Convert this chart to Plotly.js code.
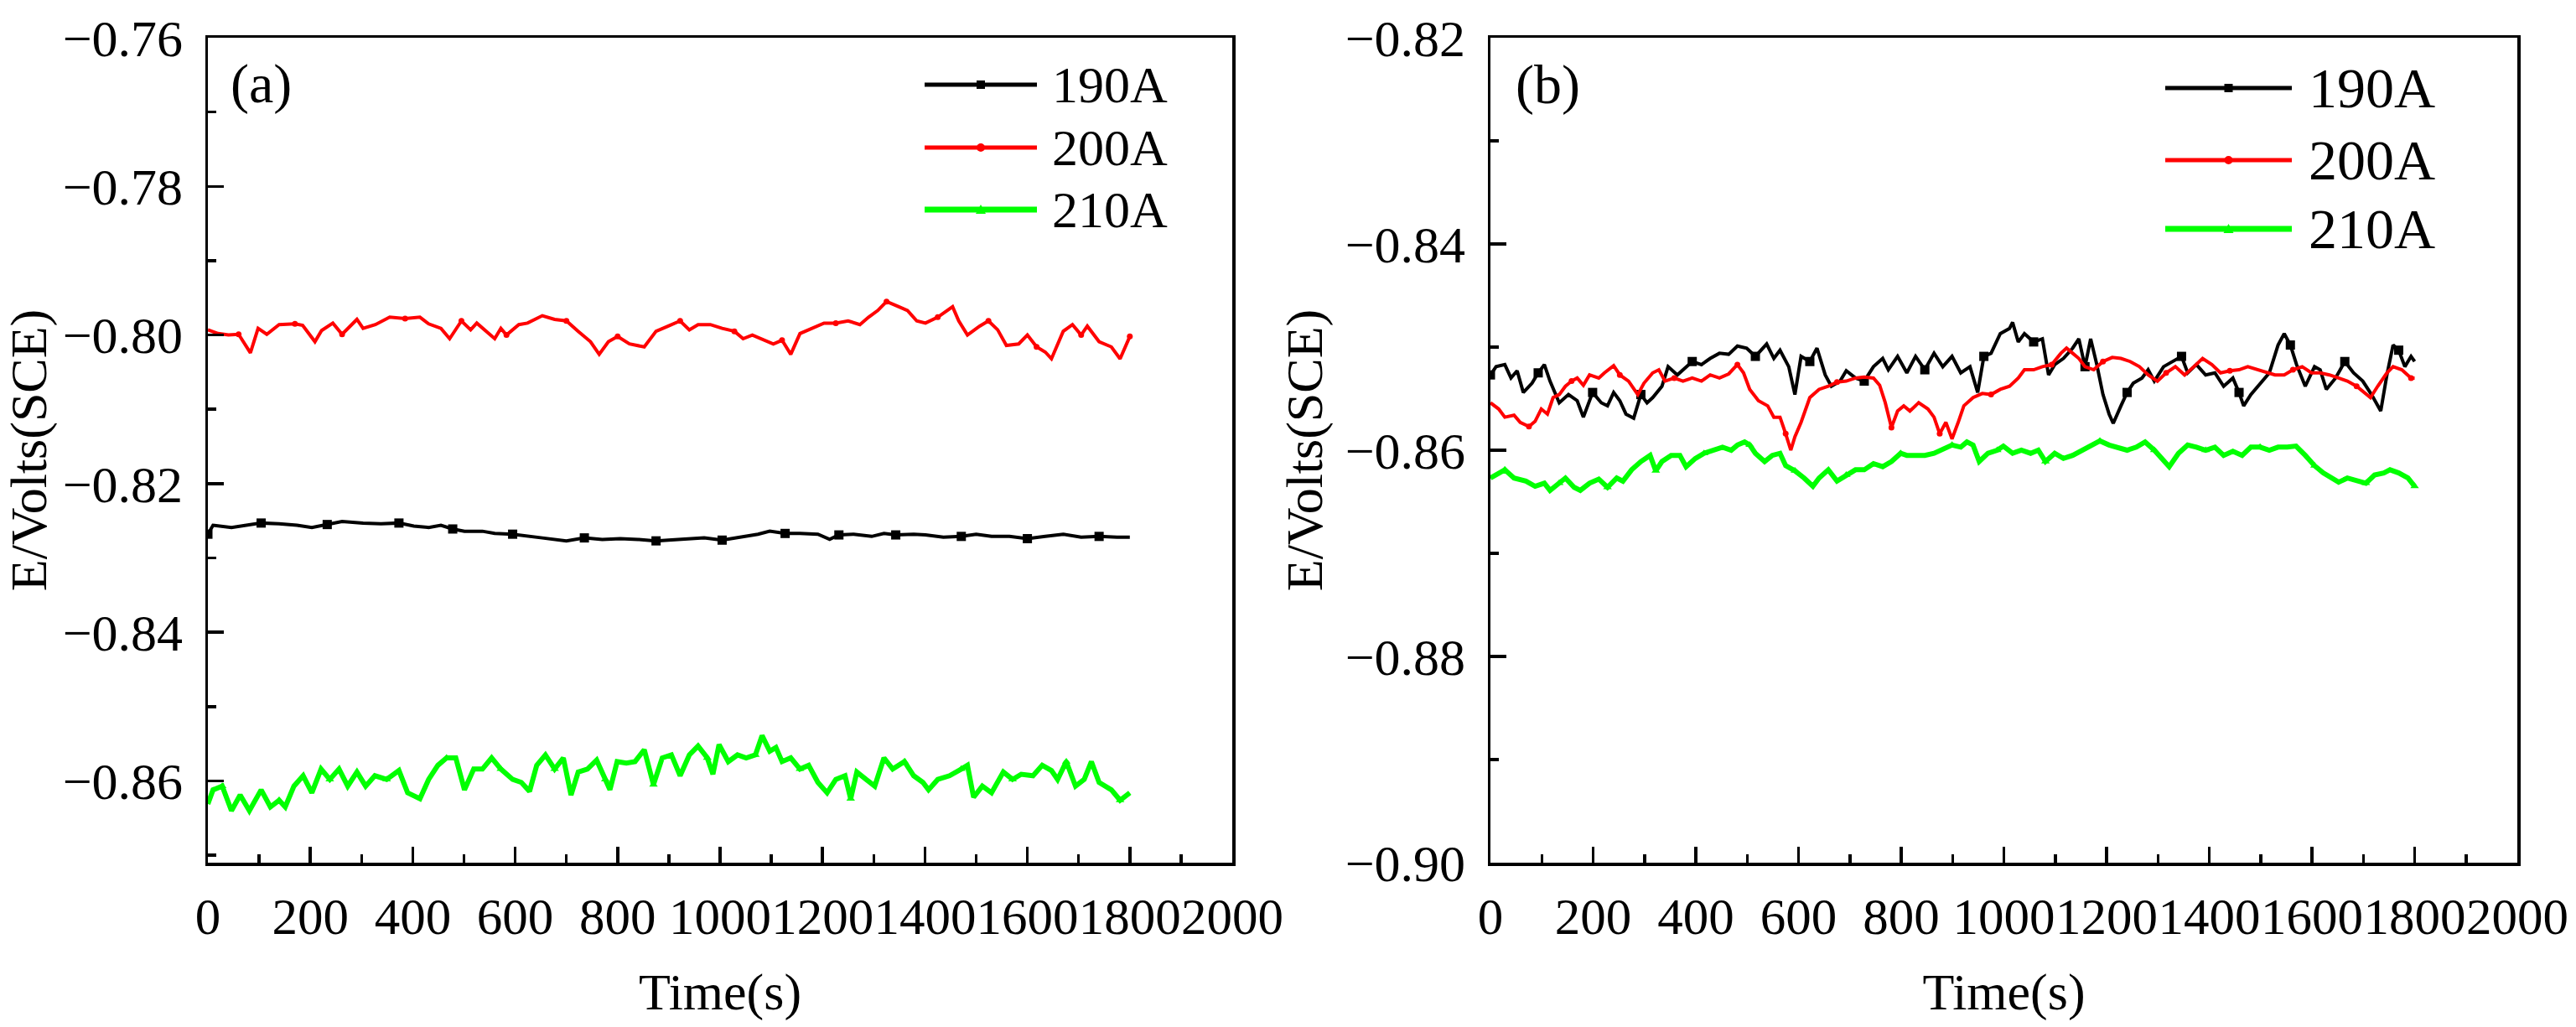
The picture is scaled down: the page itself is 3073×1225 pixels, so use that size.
<!DOCTYPE html>
<html>
<head>
<meta charset="utf-8">
<script src="https://cdn.plot.ly/plotly-3.0.1.min.js"></script>
<style>
  html, body { margin: 0; padding: 0; background: #fff; }
  #chart { width: 3073px; height: 1225px; }
</style>
</head>
<body>
<div id="chart"></div>
<script>
// ---- data ----
const seriesNames = ["190A", "200A", "210A"];
const seriesColors = ["#000000", "#ff0000", "#00ff00"];
const seriesSymbols = ["square", "circle", "triangle-up"];

// panel (a)
const tA190 = [0,10,46,81,104,139,174,203,233,262,303,338,373,402,431,455,478,501,536,560,
  595,624,653,700,735,770,805,840,875,899,934,969,1004,1039,1074,1097,1127,1156,1191,1214,
  1232,1261,1296,1320,1343,1378,1401,1436,1471,1500,1530,1565,1600,1635,1670,1705,1740,1775,1800];
const vA190 = [-0.8268,-0.8256,-0.8259,-0.8256,-0.8253,-0.8254,-0.8256,-0.8259,-0.8255,-0.8251,
  -0.8253,-0.8254,-0.8253,-0.8257,-0.8259,-0.8256,-0.8261,-0.8264,-0.8264,-0.8267,
  -0.8268,-0.8271,-0.8273,-0.8277,-0.8273,-0.8275,-0.8274,-0.8275,-0.8277,-0.8276,
  -0.8274,-0.8273,-0.8276,-0.8272,-0.8268,-0.8264,-0.8267,-0.8267,-0.8268,-0.8275,
  -0.8269,-0.8268,-0.8271,-0.8267,-0.8269,-0.8268,-0.8269,-0.8272,-0.8271,-0.8268,
  -0.8271,-0.8271,-0.8274,-0.8271,-0.8268,-0.8272,-0.8271,-0.8272,-0.8272];

const tA200 = [0,20,40,60,83,98,115,139,170,185,209,222,244,262,291,303,327,355,385,414,
  431,455,472,495,513,525,560,572,583,607,624,653,677,700,723,747,764,782,800,823,
  852,875,899,922,940,957,981,1004,1028,1045,1063,1086,1104,1121,1138,1156,1180,1203,1226,1250,
  1273,1290,1308,1325,1349,1366,1384,1401,1425,1454,1466,1483,1507,1524,1542,1559,1583,1600,1618,1635,
  1647,1670,1688,1705,1717,1740,1764,1781,1800];
const vA200 = [-0.7993,-0.7998,-0.8000,-0.7999,-0.8024,-0.7991,-0.7999,-0.7986,-0.7985,-0.7987,
  -0.8009,-0.7994,-0.7984,-0.7999,-0.7979,-0.7991,-0.7986,-0.7976,-0.7978,-0.7976,
  -0.7985,-0.7991,-0.8005,-0.7981,-0.7993,-0.7984,-0.8005,-0.7991,-0.8000,-0.7986,
  -0.7984,-0.7974,-0.7979,-0.7981,-0.7995,-0.8009,-0.8026,-0.8009,-0.8002,-0.8012,
  -0.8016,-0.7995,-0.7988,-0.7981,-0.7993,-0.7986,-0.7986,-0.7991,-0.7995,-0.8005,
  -0.8000,-0.8007,-0.8012,-0.8007,-0.8026,-0.7998,-0.7991,-0.7984,-0.7984,-0.7981,
  -0.7986,-0.7976,-0.7967,-0.7955,-0.7962,-0.7967,-0.7981,-0.7984,-0.7976,-0.7962,
  -0.7981,-0.8000,-0.7988,-0.7981,-0.7993,-0.8014,-0.8012,-0.8000,-0.8016,-0.8023,
  -0.8032,-0.7995,-0.7986,-0.8000,-0.7988,-0.8009,-0.8016,-0.8032,-0.8002];

const tA210 = [0,10,28,46,63,81,104,122,139,151,168,186,203,221,238,256,273,291,308,326,
  349,373,390,414,431,449,466,484,501,519,536,554,572,595,612,628,642,659,677,694,
  709,723,741,759,776,785,799,817,834,852,870,887,905,922,940,957,975,986,998,1016,
  1034,1051,1069,1082,1097,1109,1121,1138,1156,1173,1191,1209,1226,1244,1255,1267,1285,1302,1320,1337,
  1360,1378,1396,1407,1425,1448,1471,1483,1495,1512,1530,1553,1571,1588,1611,1629,1647,1659,1676,1694,
  1711,1725,1740,1764,1781,1800];
const vA210 = [-0.8631,-0.8612,-0.8607,-0.8640,-0.8619,-0.8640,-0.8612,-0.8635,-0.8626,-0.8635,
  -0.8607,-0.8593,-0.8616,-0.8584,-0.8598,-0.8584,-0.8607,-0.8588,-0.8607,-0.8593,
  -0.8598,-0.8586,-0.8616,-0.8624,-0.8598,-0.8579,-0.8569,-0.8569,-0.8612,-0.8584,
  -0.8584,-0.8569,-0.8584,-0.8598,-0.8602,-0.8614,-0.8579,-0.8565,-0.8584,-0.8569,
  -0.8619,-0.8588,-0.8584,-0.8572,-0.8598,-0.8612,-0.8574,-0.8576,-0.8574,-0.8558,
  -0.8605,-0.8569,-0.8565,-0.8593,-0.8565,-0.8553,-0.8569,-0.8591,-0.8551,-0.8574,
  -0.8565,-0.8569,-0.8565,-0.8539,-0.8560,-0.8555,-0.8574,-0.8569,-0.8584,-0.8579,
  -0.8602,-0.8616,-0.8598,-0.8593,-0.8624,-0.8588,-0.8598,-0.8607,-0.8569,-0.8584,
  -0.8574,-0.8593,-0.8602,-0.8612,-0.8598,-0.8593,-0.8584,-0.8579,-0.8622,-0.8607,
  -0.8616,-0.8588,-0.8598,-0.8591,-0.8593,-0.8579,-0.8586,-0.8598,-0.8574,-0.8607,
  -0.8598,-0.8574,-0.8602,-0.8612,-0.8626,-0.8616];

// panel (b)
const tB190 = [0,11,28,40,52,64,81,93,105,116,134,152,169,181,199,216,228,240,252,264,
  279,293,305,316,334,346,364,381,393,411,428,446,464,481,499,516,538,552,564,581,
  593,605,622,636,652,664,681,693,711,728,746,764,775,793,811,828,846,864,881,899,
  916,934,949,961,975,993,1011,1017,1028,1040,1058,1075,1087,1099,1116,1134,1146,1158,1169,1181,
  1193,1205,1213,1228,1240,1252,1269,1281,1293,1311,1328,1346,1358,1375,1393,1411,1428,1446,1458,1467,
  1481,1499,1517,1534,1546,1558,1570,1587,1605,1616,1628,1646,1664,1681,1699,1716,1734,1746,1758,1769,
  1781,1793,1800];
const vB190 = [-0.8527,-0.8519,-0.8517,-0.8530,-0.8523,-0.8544,-0.8535,-0.8525,-0.8517,-0.8533,
  -0.8554,-0.8546,-0.8552,-0.8568,-0.8544,-0.8554,-0.8557,-0.8544,-0.8552,-0.8565,
  -0.8569,-0.8546,-0.8554,-0.8549,-0.8538,-0.8519,-0.8527,-0.8519,-0.8514,-0.8517,
  -0.8511,-0.8506,-0.8507,-0.8499,-0.8501,-0.8509,-0.8497,-0.8511,-0.8503,-0.8519,
  -0.8546,-0.8509,-0.8514,-0.8501,-0.8527,-0.8538,-0.8533,-0.8523,-0.8530,-0.8533,
  -0.8519,-0.8511,-0.8522,-0.8509,-0.8525,-0.8509,-0.8522,-0.8506,-0.8519,-0.8509,
  -0.8525,-0.8519,-0.8544,-0.8509,-0.8506,-0.8487,-0.8482,-0.8476,-0.8495,-0.8487,
  -0.8495,-0.8492,-0.8527,-0.8517,-0.8511,-0.8501,-0.8492,-0.8519,-0.8492,-0.8517,
  -0.8546,-0.8565,-0.8574,-0.8557,-0.8544,-0.8535,-0.8530,-0.8522,-0.8533,-0.8519,
  -0.8514,-0.8509,-0.8525,-0.8517,-0.8527,-0.8525,-0.8538,-0.8530,-0.8544,-0.8557,
  -0.8546,-0.8535,-0.8525,-0.8498,-0.8487,-0.8498,-0.8517,-0.8538,-0.8519,-0.8522,
  -0.8541,-0.8530,-0.8514,-0.8525,-0.8533,-0.8546,-0.8562,-0.8527,-0.8498,-0.8503,
  -0.8519,-0.8509,-0.8514];

const tB200 = [0,16,28,46,58,75,87,99,111,122,134,146,158,169,181,193,211,222,240,252,
  269,287,299,316,328,340,358,375,393,411,428,446,464,481,493,505,522,540,552,564,
  575,585,593,605,622,640,658,675,693,711,728,746,758,769,781,793,805,817,834,852,
  864,875,887,899,911,922,940,958,975,993,1011,1028,1040,1058,1075,1093,1111,1122,1134,1146,
  1158,1175,1193,1211,1228,1246,1264,1281,1299,1316,1334,1352,1370,1387,1405,1422,1440,1458,1475,1493,
  1511,1528,1546,1563,1581,1599,1616,1634,1652,1669,1687,1705,1714,1728,1746,1758,1775,1793,1800];
const vB200 = [-0.8554,-0.8560,-0.8568,-0.8566,-0.8573,-0.8577,-0.8572,-0.8560,-0.8565,-0.8549,
  -0.8546,-0.8538,-0.8533,-0.8530,-0.8537,-0.8527,-0.8530,-0.8525,-0.8518,-0.8527,
  -0.8533,-0.8546,-0.8535,-0.8525,-0.8522,-0.8533,-0.8530,-0.8533,-0.8530,-0.8533,
  -0.8527,-0.8530,-0.8526,-0.8517,-0.8525,-0.8541,-0.8552,-0.8557,-0.8568,-0.8568,
  -0.8584,-0.8600,-0.8587,-0.8573,-0.8549,-0.8541,-0.8538,-0.8534,-0.8533,-0.8530,
  -0.8529,-0.8530,-0.8537,-0.8554,-0.8578,-0.8562,-0.8557,-0.8562,-0.8554,-0.8560,
  -0.8568,-0.8584,-0.8573,-0.8589,-0.8573,-0.8557,-0.8549,-0.8545,-0.8546,-0.8541,
  -0.8538,-0.8530,-0.8522,-0.8522,-0.8519,-0.8517,-0.8506,-0.8501,-0.8506,-0.8511,
  -0.8519,-0.8522,-0.8514,-0.8510,-0.8511,-0.8514,-0.8519,-0.8527,-0.8533,-0.8525,
  -0.8519,-0.8527,-0.8519,-0.8511,-0.8517,-0.8525,-0.8523,-0.8522,-0.8519,-0.8522,
  -0.8525,-0.8527,-0.8527,-0.8522,-0.8519,-0.8525,-0.8525,-0.8527,-0.8530,-0.8533,
  -0.8538,-0.8545,-0.8549,-0.8538,-0.8525,-0.8519,-0.8522,-0.8530,-0.8530];

const tB210 = [0,11,28,46,69,87,105,116,134,146,163,175,193,211,228,246,258,275,293,311,
  322,334,352,369,381,399,416,434,452,469,481,495,505,516,534,549,564,575,593,611,
  628,640,658,675,693,711,728,746,764,781,799,811,828,846,864,881,899,916,928,940,
  952,969,987,999,1017,1034,1052,1067,1081,1099,1116,1134,1152,1169,1187,1205,1222,1240,1258,1275,
  1293,1311,1322,1340,1358,1375,1393,1411,1428,1446,1464,1481,1499,1517,1534,1552,1569,1587,1605,1622,
  1640,1652,1669,1687,1705,1722,1740,1752,1769,1787,1800];
const vB210 = [-0.8627,-0.8624,-0.8619,-0.8627,-0.8630,-0.8635,-0.8632,-0.8639,-0.8632,-0.8627,
  -0.8636,-0.8639,-0.8632,-0.8628,-0.8636,-0.8627,-0.8630,-0.8619,-0.8611,-0.8605,
  -0.8620,-0.8611,-0.8605,-0.8605,-0.8616,-0.8608,-0.8603,-0.8600,-0.8597,-0.8600,
  -0.8595,-0.8592,-0.8595,-0.8603,-0.8611,-0.8605,-0.8603,-0.8615,-0.8620,-0.8627,
  -0.8635,-0.8627,-0.8619,-0.8630,-0.8624,-0.8619,-0.8619,-0.8613,-0.8616,-0.8611,
  -0.8603,-0.8605,-0.8605,-0.8605,-0.8603,-0.8599,-0.8595,-0.8597,-0.8592,-0.8595,
  -0.8611,-0.8603,-0.8600,-0.8596,-0.8603,-0.8600,-0.8603,-0.8600,-0.8611,-0.8603,
  -0.8608,-0.8605,-0.8600,-0.8595,-0.8591,-0.8595,-0.8597,-0.8600,-0.8597,-0.8592,
  -0.8600,-0.8611,-0.8616,-0.8603,-0.8595,-0.8597,-0.8600,-0.8597,-0.8605,-0.8601,
  -0.8605,-0.8597,-0.8597,-0.8600,-0.8597,-0.8597,-0.8596,-0.8605,-0.8615,-0.8622,
  -0.8627,-0.8631,-0.8627,-0.8630,-0.8632,-0.8624,-0.8622,-0.8619,-0.8622,-0.8627,
  -0.8635];

const panelLabels = ["(a)", "(b)"];
const xTitle = "Time(s)";
const yTitle = "E/Volts(SCE)";

// ---- layout helpers (pixel -> paper) ----
const W = 3073, H = 1225;
const px = (x) => x / W;
const py = (y) => 1 - y / H;
const FONT = "Liberation Serif, Times New Roman, serif";
const lineWidths = [4, 4, 6];
const markerSizes = [11, 7, 9];

function makeTrace(i, t, v, xa, ya) {
  return {
    x: t,
    y: v,
    xaxis: xa,
    yaxis: ya,
    name: seriesNames[i],
    type: "scatter",
    mode: "lines+markers",
    showlegend: false,
    line: { color: seriesColors[i], width: lineWidths[i] },
    marker: {
      color: seriesColors[i],
      symbol: seriesSymbols[i],
      size: markerSizes[i],
      maxdisplayed: 19,
    },
  };
}

const data = [
  makeTrace(0, tA190, vA190, "x", "y"),
  makeTrace(1, tA200, vA200, "x", "y"),
  makeTrace(2, tA210, vA210, "x", "y"),
  makeTrace(0, tB190, vB190, "x2", "y2"),
  makeTrace(1, tB200, vB200, "x2", "y2"),
  makeTrace(2, tB210, vB210, "x2", "y2"),
];

function xAxis(domain, anchor) {
  return {
    domain: domain,
    anchor: anchor,
    range: [0, 2000],
    tick0: 0,
    dtick: 200,
    tickangle: 0,
    ticks: "inside",
    ticklen: 19,
    tickwidth: 3.5,
    tickcolor: "#000",
    minor: { ticks: "inside", ticklen: 10, tickwidth: 3.5, dtick: 100, showgrid: false },
    showline: true,
    linewidth: 3.5,
    linecolor: "#000",
    mirror: true,
    showgrid: false,
    zeroline: false,
    ticklabelstandoff: 8,
    tickfont: { family: FONT, size: 61, color: "#000" },
    title: { text: xTitle, font: { family: FONT, size: 62, color: "#000" }, standoff: 36 },
  };
}

function yAxis(domain, anchor, range) {
  return {
    domain: domain,
    anchor: anchor,
    range: range,
    tick0: 0,
    dtick: 0.02,
    tickformat: ".2f",
    tickangle: 0,
    ticks: "inside",
    ticklen: 19,
    tickwidth: 3.5,
    tickcolor: "#000",
    minor: { ticks: "inside", ticklen: 10, tickwidth: 3.5, dtick: 0.01, showgrid: false },
    showline: true,
    linewidth: 3.5,
    linecolor: "#000",
    mirror: true,
    showgrid: false,
    zeroline: false,
    ticklabelstandoff: 14,
    tickfont: { family: FONT, size: 62, color: "#000" },
    title: { text: yTitle, font: { family: FONT, size: 62, color: "#000" }, standoff: 8 },
  };
}

const yDom = [py(1029), py(45)];

// hand drawn legends, one per panel
const legends = [
  { x0: 1103, x1: 1237, tx: 1253, rows: [101, 176, 250], size: 62 },
  { x0: 2583, x1: 2734, tx: 2752, rows: [105, 191, 273], size: 68 },
];
const legendWidths = [5, 5, 7];
const shapes = [];
const annotations = [];
legends.forEach((lg) => {
  lg.rows.forEach((ry, i) => {
    shapes.push({
      type: "line", xref: "paper", yref: "paper",
      x0: px(lg.x0), x1: px(lg.x1), y0: py(ry), y1: py(ry),
      line: { color: seriesColors[i], width: legendWidths[i] },
    });
    const cx = (lg.x0 + lg.x1) / 2;
    const r = 5;
    if (i === 0) {
      shapes.push({
        type: "rect", xref: "paper", yref: "paper",
        x0: px(cx - r), x1: px(cx + r), y0: py(ry + r), y1: py(ry - r),
        fillcolor: seriesColors[i], line: { width: 0 },
      });
    } else if (i === 1) {
      shapes.push({
        type: "circle", xref: "paper", yref: "paper",
        x0: px(cx - r), x1: px(cx + r), y0: py(ry + r), y1: py(ry - r),
        fillcolor: seriesColors[i], line: { width: 0 },
      });
    } else {
      shapes.push({
        type: "path", xref: "paper", yref: "paper",
        path: `M ${px(cx - 6)} ${py(ry + 5)} L ${px(cx + 6)} ${py(ry + 5)} L ${px(cx)} ${py(ry - 6)} Z`,
        fillcolor: seriesColors[i], line: { width: 0 },
      });
    }
    annotations.push({
      xref: "paper", yref: "paper",
      x: px(lg.tx), y: py(ry),
      xanchor: "left", yanchor: "middle",
      text: seriesNames[i], showarrow: false,
      font: { family: FONT, size: lg.size, color: "#000" },
    });
  });
});

[[273, 100], [1806, 101]].forEach((p, i) => {
  annotations.push({
    xref: "paper", yref: "paper",
    x: px(p[0]), y: py(p[1]),
    xanchor: "left", yanchor: "middle",
    text: panelLabels[i], showarrow: false,
    font: { family: FONT, size: 66, color: "#000" },
  });
});

const layout = {
  width: W,
  height: H,
  margin: { l: 0, r: 0, t: 0, b: 0 },
  paper_bgcolor: "#fff",
  plot_bgcolor: "#fff",
  showlegend: false,
  xaxis: xAxis([px(248), px(1470)], "y"),
  yaxis: yAxis(yDom, "x", [-0.871, -0.76]),
  xaxis2: xAxis([px(1778), px(3003)], "y2"),
  yaxis2: yAxis(yDom, "x2", [-0.9, -0.82]),
  shapes: shapes,
  annotations: annotations,
};

Plotly.newPlot("chart", data, layout, { staticPlot: true, displayModeBar: false });
</script>
</body>
</html>
